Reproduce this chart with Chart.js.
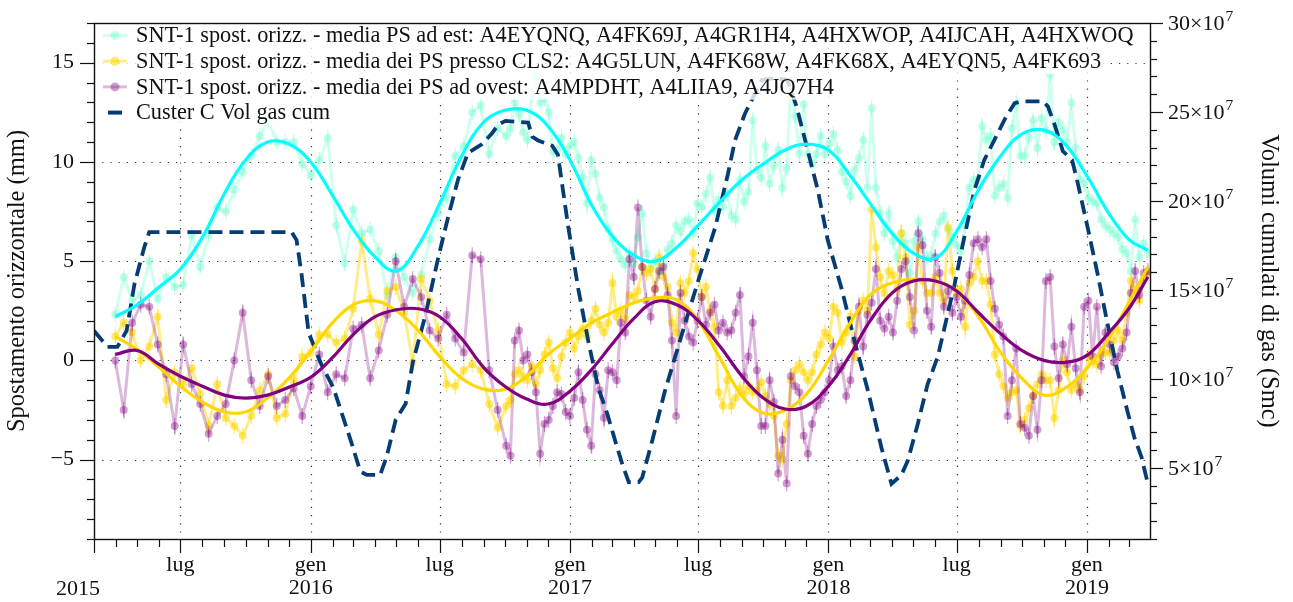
<!DOCTYPE html>
<html lang="it">
<head>
<meta charset="utf-8">
<title>SNT-1 spostamenti orizzontali e volumi gas</title>
<script src="https://cdn.jsdelivr.net/npm/chart.js@4.4.1/dist/chart.umd.min.js"></script>
<style>
  html, body { margin: 0; padding: 0; background: #fff; }
  #chart { display: block; }
</style>
</head>
<body>
<canvas id="chart" width="1293" height="602"></canvas>
<script>
// Sentinel-1 acquisitions: 12-day repeat until Oct 2016, then 6-day
const dates = [
  '2015-03-31','2015-04-12','2015-04-24','2015-05-06','2015-05-18','2015-05-30','2015-06-11','2015-06-23','2015-07-05','2015-07-17','2015-07-29','2015-08-10','2015-08-22','2015-09-03','2015-09-15','2015-09-27','2015-10-09','2015-10-21','2015-11-02','2015-11-14','2015-11-26','2015-12-08','2015-12-20',
  '2016-01-01','2016-01-13','2016-01-25','2016-02-06','2016-02-18','2016-03-01','2016-03-13','2016-03-25','2016-04-06','2016-04-18','2016-04-30','2016-05-12','2016-05-24','2016-06-05','2016-06-17','2016-06-29','2016-07-11','2016-07-23','2016-08-04','2016-08-16','2016-08-28','2016-09-09','2016-09-21','2016-10-03',
  '2016-10-09','2016-10-15','2016-10-21','2016-10-27','2016-11-02','2016-11-08','2016-11-14','2016-11-20','2016-11-26','2016-12-02','2016-12-08','2016-12-14','2016-12-20','2016-12-26',
  '2017-01-01','2017-01-07','2017-01-13','2017-01-19','2017-01-25','2017-01-31','2017-02-06','2017-02-12','2017-02-18','2017-02-24','2017-03-02','2017-03-08','2017-03-14','2017-03-20','2017-03-26','2017-04-01','2017-04-07','2017-04-13','2017-04-19','2017-04-25','2017-05-01','2017-05-07','2017-05-13','2017-05-19','2017-05-25','2017-05-31','2017-06-06','2017-06-12','2017-06-18','2017-06-24','2017-06-30','2017-07-06','2017-07-12','2017-07-18','2017-07-24','2017-07-30','2017-08-05','2017-08-11','2017-08-17','2017-08-23','2017-08-29','2017-09-04','2017-09-10','2017-09-16','2017-09-22','2017-09-28','2017-10-04','2017-10-10','2017-10-16','2017-10-22','2017-10-28','2017-11-03','2017-11-09','2017-11-15','2017-11-21','2017-11-27','2017-12-03','2017-12-09','2017-12-15','2017-12-21','2017-12-27',
  '2018-01-02','2018-01-08','2018-01-14','2018-01-20','2018-01-26','2018-02-01','2018-02-07','2018-02-13','2018-02-19','2018-02-25','2018-03-03','2018-03-09','2018-03-15','2018-03-21','2018-03-27','2018-04-02','2018-04-08','2018-04-14','2018-04-20','2018-04-26','2018-05-02','2018-05-08','2018-05-14','2018-05-20','2018-05-26','2018-06-01','2018-06-07','2018-06-13','2018-06-19','2018-06-25','2018-07-01','2018-07-07','2018-07-13','2018-07-19','2018-07-25','2018-07-31','2018-08-06','2018-08-12','2018-08-18','2018-08-24','2018-08-30','2018-09-05','2018-09-11','2018-09-17','2018-09-23','2018-09-29','2018-10-05','2018-10-11','2018-10-17','2018-10-23','2018-10-29','2018-11-04','2018-11-10','2018-11-16','2018-11-22','2018-11-28','2018-12-04','2018-12-10','2018-12-16','2018-12-22','2018-12-28',
  '2019-01-03','2019-01-09','2019-01-15','2019-01-21','2019-01-27','2019-02-02','2019-02-08','2019-02-14','2019-02-20','2019-02-26','2019-03-04','2019-03-10','2019-03-16','2019-03-22','2019-03-28'
];

// horizontal displacement (mm), PS east of the field
const estValues = [
  2.3, 4.2, 3.0, 3.3, 5.0, 3.1, 4.2, 3.7, 3.8, 6.3, 4.7, 6.3, 7.7, 7.5, 8.6, 9.5, 10.3, 11.3, 12.1, 11.0, 11.0, 11.0, 9.9,
  9.3, 10.1, 11.2, 6.8, 4.9, 7.6, 6.4, 6.6, 5.5, 3.3, 5.2, 4.2, 3.4, 4.3, 6.1, 7.4, 8.2, 10.3, 10.8, 12.5, 12.85, 10.4, 11.7, 11.3,
  11.7, 13.0, 12.4, 11.5, 11.1, 13.4, 14.3, 13.0, 13.2, 12.5, 10.5, 10.6, 11.2, 10.4,
  10.8, 11.0, 10.2, 9.2, 7.9, 10.1, 9.4, 8.2, 7.7, 6.6, 6.1, 5.5, 5.1, 4.8, 5.4, 4.9, 6.2, 7.4, 5.4, 4.6, 5.0, 4.4, 4.8, 5.6, 5.9, 6.8, 6.5, 7.0, 7.1, 6.4, 7.9, 7.7, 8.4, 9.2, 7.6, 8.1, 7.7, 8.4, 7.3, 7.1, 9.1, 8.0, 8.5, 12.1, 9.6, 9.2, 10.8, 8.9, 9.8, 10.6, 8.7, 9.7, 14.1, 12.3, 10.4, 12.9, 10.4, 9.9, 10.4, 11.3, 10.4,
  10.9, 11.4, 10.6, 9.5, 9.0, 8.3, 9.6, 10.2, 11.1, 8.7, 12.7, 8.7, 7.4, 6.4, 7.4, 6.0, 5.2, 6.4, 5.9, 4.4, 6.0, 7.0, 6.1, 5.1, 5.3, 6.4, 7.0, 7.3, 6.6, 6.2, 5.8, 5.5, 6.8, 8.7, 9.1, 9.1, 11.8, 11.1, 11.3, 8.3, 8.7, 8.9, 8.2, 11.7, 12.9, 10.3, 10.3, 11.2, 12.1, 10.7, 12.2, 11.6, 14.4, 11.0, 12.0, 11.6, 11.0, 13.0, 10.7, 9.1, 8.9,
  8.2, 8.0, 7.9, 7.1, 6.8, 6.6, 6.4, 6.2, 5.6, 5.4, 4.5, 7.1, 5.2, 5.9, 5.4
];

// PS near CLS2
const cls2Values = [
  1.2, 1.9, 1.4, 0.0, 0.7, 2.2, -2.0, -0.6, -1.2, -0.4, -1.7, -3.3, -1.2, -2.9, -3.3, -3.8, -2.8, -1.5, -0.7, -2.9, -2.7, -1.0, 0.2,
  0.4, 1.3, 1.3, 0.9, 1.1, 2.6, 6.0, 3.1, 1.3, 3.5, 3.7, 2.4, -0.1, 4.1, 3.0, 1.5, -1.2, -1.3, -0.5, -0.2, -0.5, -2.2, -3.4, -2.3,
  -2.0, -0.7, -0.5, -0.8, -1.0, -0.3, -1.2, -0.5, 0.3, 0.9, -0.4, -0.9, 0.2, 0.9,
  1.4, 0.6, 1.2, 1.6, 1.2, 2.0, 2.6, 1.8, 1.4, 1.9, 3.9, 2.2, 2.5, 2.1, 3.3, 3.2, 3.5, 4.7, 4.4, 4.6, 3.6, 5.2, 4.2, 3.7, 1.9, 1.4, 3.9, 3.4, 4.0, 5.4, 4.6, 3.2, 3.7, 2.5, 1.7, -1.6, -2.3, -1.0, -2.3, -1.9, -1.4, -1.7, -1.3, -1.6, -1.5, -1.1, -1.8, -2.2, -2.8, -4.8, -5.0, -3.2, -1.0, -0.5, -0.2, -0.6, -1.0, -0.6, 0.3, 0.8, 1.4,
  1.1, 2.7, 2.4, 0.9, 1.4, 2.2, 0.2, 2.5, 3.0, 2.5, 7.6, 5.7, 4.2, 3.4, 4.5, 4.3, 3.6, 6.4, 5.2, 1.8, 2.5, 5.7, 4.0, 3.4, 3.4, 4.2, 3.4, 3.0, 6.7, 4.5, 3.4, 3.6, 1.7, 3.9, 4.2, 5.0, 4.0, 4.0, 2.8, 0.3, -0.7, -1.3, -1.9, -1.6, -1.5, -3.3, -3.0, -2.4, -1.8, -1.2, -0.7, -1.0, -1.0, -2.9, -1.5, 0.0, -0.6, -1.5, -1.2, -1.5, -0.8,
  0.2, 0.0, -0.2, 0.3, 0.4, 0.4, 1.0, 1.5, 1.0, 2.4, 4.0, 3.6, 3.0, 4.1, 4.4
];

// PS west of the field
const ovestValues = [
  0.0, -2.5, 1.9, 2.8, 2.7, 0.8, -0.7, -3.3, 0.8, -1.2, -2.2, -3.7, -2.8, -2.2, 0.0, 2.4, -1.0, -2.3, -0.8, -2.3, -2.0, -1.4, -2.8,
  -1.3, 0.3, -1.6, -0.7, -0.9, 1.6, 1.8, -0.9, 0.5, 2.3, 5.0, 2.7, 4.1, 3.2, 1.5, 1.1, 2.3, 1.1, 0.4, 5.3, 5.1, -0.5, -2.5, -4.3,
  -4.8, 1.0, 1.5, 0.0, 0.3, -0.6, -1.6, -4.7, -3.2, -3.0, -2.3, -1.6, -1.7, -2.6,
  -2.8, -1.9, -0.6, -2.0, -3.5, -4.3, -0.7, -1.5, -2.9, -0.5, -0.6, -1.0, 1.9, 1.4, 5.1, 4.2, 7.7, 4.7, 3.0, 2.2, 3.6, 4.5, 4.7, 3.3, 1.0, -2.8, 3.4, 2.0, 1.2, 0.9, 2.0, 3.2, 1.8, 2.4, 2.8, 1.5, 1.9, 1.4, 1.5, 2.4, 3.3, -0.8, 0.2, 1.9, -0.5, -3.3, -3.3, -1.0, -2.1, -5.7, -4.0, -6.2, -0.8, -1.3, -1.6, -3.8, -4.7, -3.2, -2.3, -2.0, -1.6,
  -1.0, 0.7, -0.5, -0.3, -1.8, -1.0, 1.0, 2.7, 0.7, 2.3, 2.9, 4.6, 2.0, 1.6, 2.2, 1.4, 3.0, 4.6, 5.0, 3.2, 1.5, 6.4, 5.8, 2.5, 1.7, 5.2, 4.4, 2.7, 3.5, 2.4, 3.2, 2.2, 3.0, 4.3, 5.9, 6.1, 5.7, 6.1, 4.0, 2.6, 1.8, 1.2, -2.8, -1.0, 0.6, -3.2, -3.4, -3.8, -1.8, -3.5, -1.0, 4.0, 4.2, 0.7, -0.9, 0.8, -0.2, 1.7, -0.4, -1.6, 2.7,
  3.0, 0.2, 2.7, -0.3, 1.4, 0.8, -0.1, 0.2, 0.6, 1.4, 3.4, 4.5, 3.3, 4.4, 4.5
];

// seasonal fits, sampled monthly
const fitDates = [
  '2015-03-31','2015-05-01','2015-06-01','2015-07-01','2015-08-01','2015-09-01','2015-10-01','2015-11-01','2015-12-01',
  '2016-01-01','2016-02-01','2016-03-01','2016-04-01','2016-05-01','2016-06-01','2016-07-01','2016-08-01','2016-09-01','2016-10-01','2016-11-01','2016-12-01',
  '2017-01-01','2017-02-01','2017-03-01','2017-04-01','2017-05-01','2017-06-01','2017-07-01','2017-08-01','2017-09-01','2017-10-01','2017-11-01','2017-12-01',
  '2018-01-01','2018-02-01','2018-03-01','2018-04-01','2018-05-01','2018-06-01','2018-07-01','2018-08-01','2018-09-01','2018-10-01','2018-11-01','2018-12-01',
  '2019-01-01','2019-02-01','2019-03-01','2019-03-28'
];
const fitEst = [
  2.2, 2.8, 3.7, 4.6, 6.2, 8.4, 10.1, 11.0, 10.9,
  10.0, 8.3, 6.6, 5.2, 4.5, 5.8, 7.9, 10.3, 12.0, 12.6, 12.6, 11.8,
  10.1, 7.8, 6.3, 5.3, 5.0, 5.7, 6.8, 8.0, 9.1, 9.9, 10.6, 10.9,
  10.6, 9.3, 7.9, 6.4, 5.4, 5.15, 6.5, 8.6, 10.3, 11.4, 11.6, 10.9,
  9.3, 7.4, 6.1, 5.55
];
const fitCls2 = [
  1.2, 0.55, -0.35, -1.3, -2.1, -2.6, -2.6, -1.9, -0.9,
  0.45, 1.9, 2.8, 3.0, 2.5, 1.5, 0.2, -0.9, -1.45, -1.45, -0.8, 0.3,
  1.1, 1.9, 2.4, 2.9, 3.15, 3.05, 2.0, 0.1, -1.8, -2.65, -2.5, -1.7,
  0.0, 1.9, 3.3, 3.9, 4.1, 4.0, 3.5, 2.2, 0.4, -0.9, -1.75, -1.4,
  -0.4, 1.1, 2.9, 4.7
];
const fitOvest = [
  0.3, 0.5, -0.2, -0.8, -1.3, -1.75, -1.9, -1.75, -1.35,
  -0.85, 0.15, 1.3, 2.2, 2.55, 2.6, 2.2, 1.1, -0.35, -1.3, -1.95, -2.2,
  -1.55, -0.45, 0.8, 2.1, 2.95, 2.8, 2.0, 0.7, -0.8, -1.9, -2.45, -2.3,
  -1.3, 0.3, 2.0, 3.4, 4.0, 4.0, 3.5, 2.4, 1.35, 0.5, 0.0, -0.1,
  0.25, 1.4, 2.6, 4.2
];

// cumulative gas volume, Cluster C (units of 10^7 Smc)
const gasDates = [
  '2015-03-01','2015-03-20','2015-04-03','2015-04-16','2015-04-27','2015-05-11','2015-05-18','2015-12-05','2015-12-12','2015-12-19','2015-12-29',
  '2016-01-15','2016-02-02','2016-02-26','2016-03-11','2016-03-20','2016-04-08','2016-04-17','2016-04-30','2016-05-14','2016-05-24','2016-06-11','2016-06-29','2016-07-13','2016-07-27','2016-08-10','2016-08-30','2016-09-13','2016-09-22','2016-10-02','2016-11-03','2016-11-09','2016-11-17','2016-12-07','2016-12-15','2016-12-29',
  '2017-01-13','2017-01-27','2017-02-10','2017-02-23','2017-03-06','2017-03-16','2017-03-25','2017-04-08','2017-04-13','2017-04-27','2017-05-15','2017-06-08','2017-07-01','2017-07-25','2017-08-12','2017-08-22','2017-09-05','2017-09-19','2017-09-29','2017-10-17','2017-11-04','2017-11-17','2017-12-03','2017-12-17','2017-12-31',
  '2018-01-20','2018-02-07','2018-02-26','2018-03-17','2018-03-31','2018-04-14','2018-04-23','2018-05-07','2018-05-21','2018-06-04','2018-06-14','2018-06-28','2018-07-12','2018-07-26','2018-08-09','2018-08-23','2018-09-07','2018-09-21','2018-10-01','2018-10-31','2018-11-07','2018-11-17','2018-11-28','2018-12-11','2018-12-19',
  '2019-01-02','2019-01-16','2019-01-30','2019-02-13','2019-02-27','2019-03-09','2019-03-19','2019-03-28'
];
const gasCum = [
  12.7, 11.8, 11.8, 12.7, 15.3, 17.4, 18.25, 18.25, 17.8, 15.9, 12.6,
  10.9, 9.5, 6.6, 4.8, 4.6, 4.6, 5.6, 7.7, 8.6, 10.9, 13.6, 16.8, 19.1, 21.2, 22.7, 23.2, 23.8, 24.3, 24.5, 24.4, 23.6, 23.4, 23.1, 22.6, 18.7,
  15.0, 12.1, 9.5, 8.0, 6.5, 5.2, 4.2, 4.2, 4.45, 6.5, 9.3, 12.5, 15.5, 18.5, 21.5, 23.4, 24.9, 26.0, 26.8, 26.9, 26.8, 25.3, 22.8, 20.6, 17.8,
  15.0, 12.1, 9.3, 6.1, 4.1, 4.6, 5.4, 7.45, 9.7, 11.2, 12.9, 15.3, 18.0, 20.6, 22.3, 23.4, 24.6, 25.5, 25.6, 25.6, 25.3, 24.2, 22.8, 22.3, 21.0,
  18.5, 15.9, 13.1, 10.45, 8.2, 6.7, 5.6, 4.1
];

const leftTicks = [-5, 0, 5, 10, 15];
const rightTicks = [5, 10, 15, 20, 25, 30];
const halfYearNames = ['gen', 'lug'];

const labelEst = 'SNT-1 spost. orizz. - media PS ad est: A4EYQNQ, A4FK69J, A4GR1H4, A4HXWOP, A4IJCAH, A4HXWOQ';
const labelCls2 = 'SNT-1 spost. orizz. - media dei PS presso CLS2: A4G5LUN, A4FK68W, A4FK68X, A4EYQN5, A4FK693';
const labelOvest = 'SNT-1 spost. orizz. - media dei PS ad ovest: A4MPDHT, A4LIIA9, A4JQ7H4';
const labelGas = 'Custer C Vol gas cum';

const FONT = '"Liberation Serif", "DejaVu Serif", serif';
const INK = '#111';

const ms = s => Date.parse(s + 'T00:00:00Z');
const xMin = ms('2015-03-01');
const xMax = ms('2019-03-31');

// month starts used for the x ticks
const monthStarts = [];
for (let y = 2015; y <= 2019; y++) {
  for (let m = 0; m < 12; m++) {
    const t = Date.UTC(y, m, 1);
    if (t >= xMin && t <= xMax) monthStarts.push(t);
  }
}

const pts = (ds, vs) => ds.map((d, i) => ({ x: ms(d), y: vs[i] }));

function scatterSet(label, values, rgb, lineA, pointA, order) {
  return {
    label: label,
    data: pts(dates, values),
    yAxisID: 'y',
    order: order,
    borderColor: `rgba(${rgb},${lineA})`,
    borderWidth: 3,
    pointRadius: 4,
    pointBorderWidth: 0,
    pointBackgroundColor: `rgba(${rgb},${pointA})`,
    tension: 0,
    errColor: `rgba(${rgb},${pointA})`
  };
}

function fitSet(values, color, order) {
  return {
    data: pts(fitDates, values),
    yAxisID: 'y',
    order: order,
    borderColor: color,
    borderWidth: 3.2,
    pointRadius: 0,
    tension: 0.4
  };
}

const datasets = [
  scatterSet(labelEst, estValues, '127,255,212', 0.38, 0.5, 6),
  scatterSet(labelCls2, cls2Values, '255,215,0', 0.45, 0.55, 5),
  scatterSet(labelOvest, ovestValues, '128,0,128', 0.28, 0.38, 4),
  {
    label: labelGas,
    data: pts(gasDates, gasCum),
    yAxisID: 'y2',
    order: 3,
    borderColor: '#053c74',
    borderWidth: 3.8,
    borderDash: [14, 7],
    borderCapStyle: 'butt',
    pointRadius: 0,
    tension: 0
  },
  fitSet(fitEst, '#00ffff', 2),
  fitSet(fitCls2, '#ffd700', 1),
  fitSet(fitOvest, '#800080', 0)
];

function line(ctx, x1, y1, x2, y2) {
  ctx.beginPath();
  ctx.moveTo(x1, y1);
  ctx.lineTo(x2, y2);
  ctx.stroke();
}

// no extra label padding around the plot box
function noPad(s) {
  s.paddingTop = 0;
  s.paddingBottom = 0;
  s.paddingLeft = 0;
  s.paddingRight = 0;
}

const decor = {
  id: 'decor',
  beforeDatasetsDraw(chart) {
    // dotted grid on the major ticks
    const { ctx, chartArea: a, scales } = chart;
    ctx.save();
    ctx.strokeStyle = '#333';
    ctx.lineWidth = 1.2;
    ctx.setLineDash([1.2, 7]);
    leftTicks.forEach(v => {
      const py = Math.round(scales.y.getPixelForValue(v)) + 0.5;
      line(ctx, a.left, py, a.right, py);
    });
    monthStarts.forEach(t => {
      if (new Date(t).getUTCMonth() % 6 !== 0) return;
      const px = Math.round(scales.x.getPixelForValue(t)) + 0.5;
      line(ctx, px, a.top, px, a.bottom);
    });
    ctx.restore();
  },
  afterDatasetDraw(chart, args) {
    // short error bars on the PS averages
    const ds = chart.data.datasets[args.index];
    if (!ds.errColor) return;
    const { ctx, chartArea: a } = chart;
    ctx.save();
    ctx.beginPath();
    ctx.rect(a.left, a.top, a.right - a.left, a.bottom - a.top);
    ctx.clip();
    ctx.strokeStyle = ds.errColor;
    ctx.lineWidth = 1.2;
    args.meta.data.forEach(p => line(ctx, p.x, p.y - 8, p.x, p.y + 8));
    ctx.restore();
  },
  afterDatasetsDraw(chart) {
    // legend inside the plot, top left
    const { ctx } = chart;
    const sets = chart.data.datasets.slice(0, 4);
    ctx.save();
    ctx.font = '22.3px ' + FONT;
    ctx.textBaseline = 'middle';
    sets.forEach((ds, i) => {
      const cy = 35.5 + i * 25.7;
      const w = ctx.measureText(ds.label).width;
      ctx.fillStyle = 'rgba(255,255,255,0.8)';
      ctx.fillRect(95, cy - 12.85, 136 + w + 5 - 95, 25.7);
      if (ds.errColor) {
        ctx.strokeStyle = ds.borderColor;
        ctx.lineWidth = 3;
        line(ctx, 103, cy, 127, cy);
        ctx.fillStyle = ds.pointBackgroundColor;
        ctx.beginPath();
        ctx.arc(115, cy, 4.5, 0, Math.PI * 2);
        ctx.fill();
      } else {
        ctx.strokeStyle = ds.borderColor;
        ctx.lineWidth = 4;
        line(ctx, 108, cy, 122, cy);
      }
      ctx.fillStyle = INK;
      ctx.fillText(ds.label, 136, cy + 1);
    });
    ctx.restore();
  },
  afterDraw(chart) {
    // frame and tick marks
    const { ctx, chartArea: a, scales } = chart;
    ctx.save();
    ctx.strokeStyle = INK;
    ctx.lineWidth = 1.2;
    monthStarts.forEach(t => {
      const px = Math.round(scales.x.getPixelForValue(t)) + 0.5;
      const major = new Date(t).getUTCMonth() % 6 === 0 || t === xMin;
      line(ctx, px, a.bottom, px, a.bottom + (major ? 14 : 8));
    });
    for (let v = -9; v <= 17; v++) {
      const py = Math.round(scales.y.getPixelForValue(v)) + 0.5;
      line(ctx, a.left - (v % 5 === 0 ? 14 : 7), py, a.left, py);
    }
    for (let v = 1; v <= 30; v++) {
      const py = Math.round(scales.y2.getPixelForValue(v)) + 0.5;
      line(ctx, a.right, py, a.right + (v % 5 === 0 ? 13 : 7), py);
    }
    ctx.lineWidth = 1.4;
    ctx.strokeRect(Math.round(a.left) + 0.5, Math.round(a.top) + 0.5,
      Math.round(a.right - a.left), Math.round(a.bottom - a.top));

    ctx.fillStyle = INK;
    ctx.textBaseline = 'middle';
    // right axis labels as N×10 with a raised exponent
    rightTicks.forEach(v => {
      const py = scales.y2.getPixelForValue(v);
      const base = v + '\u00d710';
      ctx.font = '22px ' + FONT;
      ctx.textAlign = 'left';
      ctx.fillText(base, a.right + 18, py + 1);
      const w = ctx.measureText(base).width;
      ctx.font = '15.5px ' + FONT;
      ctx.fillText('7', a.right + 18 + w + 1, py - 6);
    });
    // year of the first (partial) period
    ctx.font = '22px ' + FONT;
    ctx.textAlign = 'center';
    ctx.fillText('2015', 78, 589);
    ctx.restore();
  }
};

new Chart(document.getElementById('chart'), {
  type: 'line',
  data: { datasets: datasets },
  options: {
    responsive: false,
    animation: false,
    devicePixelRatio: 1,
    layout: { padding: { top: 23, left: 0, right: 0, bottom: 0 } },
    plugins: { legend: { display: false }, tooltip: { enabled: false } },
    scales: {
      x: {
        type: 'linear',
        min: xMin,
        max: xMax,
        grid: { display: false },
        border: { display: false },
        afterBuildTicks: s => { s.ticks = monthStarts.map(v => ({ value: v })); },
        afterFit: s => { s.height = 63; noPad(s); },
        ticks: {
          autoSkip: false,
          maxRotation: 0,
          minRotation: 0,
          padding: 7,
          color: INK,
          font: { family: FONT, size: 22, lineHeight: 1.05 },
          callback: v => {
            const d = new Date(v);
            const m = d.getUTCMonth();
            if (m === 0) return [halfYearNames[0], String(d.getUTCFullYear())];
            if (m === 6) return halfYearNames[1];
            return '';
          }
        }
      },
      y: {
        position: 'left',
        min: -9,
        max: 17,
        grid: { display: false },
        border: { display: false },
        afterBuildTicks: s => { s.ticks = leftTicks.map(v => ({ value: v })); },
        afterFit: s => { s.width = 94; noPad(s); },
        ticks: {
          padding: 12,
          color: INK,
          font: { family: FONT, size: 22 },
          callback: v => (v < 0 ? '\u2212' + Math.abs(v) : String(v))
        },
        title: {
          display: true,
          text: 'Spostamento orizzontale (mm)',
          color: INK,
          font: { family: FONT, size: 24.5 },
          padding: { top: 3, bottom: 0 }
        }
      },
      y2: {
        position: 'right',
        min: 1,
        max: 30,
        grid: { display: false },
        border: { display: false },
        afterBuildTicks: s => { s.ticks = rightTicks.map(v => ({ value: v })); },
        afterFit: s => { s.width = 143; noPad(s); },
        ticks: { display: false },
        title: {
          display: true,
          text: 'Volumi cumulati di gas (Smc)',
          color: INK,
          font: { family: FONT, size: 24.5 },
          padding: { top: 10, bottom: 0 }
        }
      }
    }
  },
  plugins: [decor]
});
</script>
</body>
</html>
